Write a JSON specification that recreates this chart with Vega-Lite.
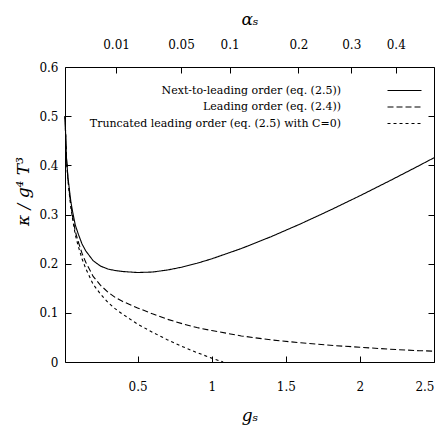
{
  "$schema": "https://vega.github.io/schema/vega-lite/v6.json",
  "width": 369,
  "height": 295,
  "autosize": {"type": "none"},
  "padding": {"left": 65, "top": 67, "right": 12, "bottom": 64},
  "background": "white",
  "config": {
    "view": {"stroke": "black", "strokeWidth": 1},
    "font": "DejaVu Serif",
    "axis": {
      "domain": false,
      "grid": false,
      "tickColor": "black",
      "tickSize": -6,
      "labelColor": "black",
      "labelFont": "DejaVu Serif",
      "labelFontSize": 12,
      "titleColor": "black",
      "titleFont": "DejaVu Serif",
      "titleFontWeight": "normal",
      "titleFontStyle": "italic",
      "titleFontSize": 17
    },
    "legend": {
      "labelFont": "DejaVu Serif",
      "labelFontSize": 11,
      "labelColor": "black",
      "labelLimit": 0
    }
  },
  "data": {
    "values": [
      {"g": 0.01, "k": 0.5, "series": "Next-to-leading order (eq. (2.5))"},
      {"g": 0.02, "k": 0.415, "series": "Next-to-leading order (eq. (2.5))"},
      {"g": 0.03, "k": 0.375, "series": "Next-to-leading order (eq. (2.5))"},
      {"g": 0.04, "k": 0.35, "series": "Next-to-leading order (eq. (2.5))"},
      {"g": 0.05, "k": 0.325, "series": "Next-to-leading order (eq. (2.5))"},
      {"g": 0.065, "k": 0.3, "series": "Next-to-leading order (eq. (2.5))"},
      {"g": 0.08, "k": 0.278, "series": "Next-to-leading order (eq. (2.5))"},
      {"g": 0.1, "k": 0.26, "series": "Next-to-leading order (eq. (2.5))"},
      {"g": 0.125, "k": 0.24, "series": "Next-to-leading order (eq. (2.5))"},
      {"g": 0.15, "k": 0.226, "series": "Next-to-leading order (eq. (2.5))"},
      {"g": 0.2, "k": 0.206, "series": "Next-to-leading order (eq. (2.5))"},
      {"g": 0.25, "k": 0.195, "series": "Next-to-leading order (eq. (2.5))"},
      {"g": 0.3, "k": 0.189, "series": "Next-to-leading order (eq. (2.5))"},
      {"g": 0.35, "k": 0.186, "series": "Next-to-leading order (eq. (2.5))"},
      {"g": 0.4, "k": 0.184, "series": "Next-to-leading order (eq. (2.5))"},
      {"g": 0.5, "k": 0.182, "series": "Next-to-leading order (eq. (2.5))"},
      {"g": 0.6, "k": 0.183, "series": "Next-to-leading order (eq. (2.5))"},
      {"g": 0.7, "k": 0.187, "series": "Next-to-leading order (eq. (2.5))"},
      {"g": 0.8, "k": 0.193, "series": "Next-to-leading order (eq. (2.5))"},
      {"g": 0.9, "k": 0.2007, "series": "Next-to-leading order (eq. (2.5))"},
      {"g": 1.0, "k": 0.2098, "series": "Next-to-leading order (eq. (2.5))"},
      {"g": 1.2, "k": 0.2308, "series": "Next-to-leading order (eq. (2.5))"},
      {"g": 1.4, "k": 0.2548, "series": "Next-to-leading order (eq. (2.5))"},
      {"g": 1.6, "k": 0.281, "series": "Next-to-leading order (eq. (2.5))"},
      {"g": 1.8, "k": 0.3089, "series": "Next-to-leading order (eq. (2.5))"},
      {"g": 2.0, "k": 0.3381, "series": "Next-to-leading order (eq. (2.5))"},
      {"g": 2.2, "k": 0.3684, "series": "Next-to-leading order (eq. (2.5))"},
      {"g": 2.4, "k": 0.3995, "series": "Next-to-leading order (eq. (2.5))"},
      {"g": 2.5, "k": 0.4154, "series": "Next-to-leading order (eq. (2.5))"},

      {"g": 0.01, "k": 0.5, "series": "Leading order (eq. (2.4))"},
      {"g": 0.02, "k": 0.414, "series": "Leading order (eq. (2.4))"},
      {"g": 0.03, "k": 0.372, "series": "Leading order (eq. (2.4))"},
      {"g": 0.04, "k": 0.344, "series": "Leading order (eq. (2.4))"},
      {"g": 0.05, "k": 0.318, "series": "Leading order (eq. (2.4))"},
      {"g": 0.065, "k": 0.289, "series": "Leading order (eq. (2.4))"},
      {"g": 0.08, "k": 0.265, "series": "Leading order (eq. (2.4))"},
      {"g": 0.1, "k": 0.244, "series": "Leading order (eq. (2.4))"},
      {"g": 0.125, "k": 0.221, "series": "Leading order (eq. (2.4))"},
      {"g": 0.15, "k": 0.203, "series": "Leading order (eq. (2.4))"},
      {"g": 0.2, "k": 0.174, "series": "Leading order (eq. (2.4))"},
      {"g": 0.25, "k": 0.156, "series": "Leading order (eq. (2.4))"},
      {"g": 0.3, "k": 0.142, "series": "Leading order (eq. (2.4))"},
      {"g": 0.35, "k": 0.131, "series": "Leading order (eq. (2.4))"},
      {"g": 0.4, "k": 0.123, "series": "Leading order (eq. (2.4))"},
      {"g": 0.5, "k": 0.11, "series": "Leading order (eq. (2.4))"},
      {"g": 0.6, "k": 0.098, "series": "Leading order (eq. (2.4))"},
      {"g": 0.7, "k": 0.087, "series": "Leading order (eq. (2.4))"},
      {"g": 0.8, "k": 0.078, "series": "Leading order (eq. (2.4))"},
      {"g": 0.9, "k": 0.07, "series": "Leading order (eq. (2.4))"},
      {"g": 1.0, "k": 0.064, "series": "Leading order (eq. (2.4))"},
      {"g": 1.2, "k": 0.053, "series": "Leading order (eq. (2.4))"},
      {"g": 1.4, "k": 0.045, "series": "Leading order (eq. (2.4))"},
      {"g": 1.6, "k": 0.039, "series": "Leading order (eq. (2.4))"},
      {"g": 1.8, "k": 0.034, "series": "Leading order (eq. (2.4))"},
      {"g": 2.0, "k": 0.03, "series": "Leading order (eq. (2.4))"},
      {"g": 2.2, "k": 0.026, "series": "Leading order (eq. (2.4))"},
      {"g": 2.4, "k": 0.023, "series": "Leading order (eq. (2.4))"},
      {"g": 2.5, "k": 0.022, "series": "Leading order (eq. (2.4))"},

      {"g": 0.01, "k": 0.5, "series": "Truncated leading order (eq. (2.5) with C=0)"},
      {"g": 0.02, "k": 0.413, "series": "Truncated leading order (eq. (2.5) with C=0)"},
      {"g": 0.03, "k": 0.37, "series": "Truncated leading order (eq. (2.5) with C=0)"},
      {"g": 0.04, "k": 0.34, "series": "Truncated leading order (eq. (2.5) with C=0)"},
      {"g": 0.05, "k": 0.313, "series": "Truncated leading order (eq. (2.5) with C=0)"},
      {"g": 0.065, "k": 0.284, "series": "Truncated leading order (eq. (2.5) with C=0)"},
      {"g": 0.08, "k": 0.258, "series": "Truncated leading order (eq. (2.5) with C=0)"},
      {"g": 0.1, "k": 0.235, "series": "Truncated leading order (eq. (2.5) with C=0)"},
      {"g": 0.125, "k": 0.21, "series": "Truncated leading order (eq. (2.5) with C=0)"},
      {"g": 0.15, "k": 0.19, "series": "Truncated leading order (eq. (2.5) with C=0)"},
      {"g": 0.2, "k": 0.158, "series": "Truncated leading order (eq. (2.5) with C=0)"},
      {"g": 0.25, "k": 0.138, "series": "Truncated leading order (eq. (2.5) with C=0)"},
      {"g": 0.3, "k": 0.121, "series": "Truncated leading order (eq. (2.5) with C=0)"},
      {"g": 0.35, "k": 0.108, "series": "Truncated leading order (eq. (2.5) with C=0)"},
      {"g": 0.4, "k": 0.097, "series": "Truncated leading order (eq. (2.5) with C=0)"},
      {"g": 0.5, "k": 0.077, "series": "Truncated leading order (eq. (2.5) with C=0)"},
      {"g": 0.6, "k": 0.0605, "series": "Truncated leading order (eq. (2.5) with C=0)"},
      {"g": 0.7, "k": 0.0455, "series": "Truncated leading order (eq. (2.5) with C=0)"},
      {"g": 0.8, "k": 0.0316, "series": "Truncated leading order (eq. (2.5) with C=0)"},
      {"g": 0.9, "k": 0.0191, "series": "Truncated leading order (eq. (2.5) with C=0)"},
      {"g": 1.0, "k": 0.0079, "series": "Truncated leading order (eq. (2.5) with C=0)"},
      {"g": 1.077, "k": 0.0, "series": "Truncated leading order (eq. (2.5) with C=0)"}
    ]
  },
  "resolve": {"axis": {"x": "independent", "y": "independent"}},
  "layer": [
    {
      "mark": {"type": "line", "color": "black", "strokeWidth": 1.1},
      "encoding": {
        "x": {
          "field": "g", "type": "quantitative",
          "scale": {"domain": [0.01, 2.5], "nice": false, "zero": false},
          "axis": {"orient": "bottom", "values": [0.5, 1, 1.5, 2, 2.5], "format": "~g", "labelPadding": 25, "title": "gₛ", "titlePadding": 15}
        },
        "y": {
          "field": "k", "type": "quantitative",
          "scale": {"domain": [0, 0.6], "nice": false},
          "axis": {"orient": "left", "values": [0, 0.1, 0.2, 0.3, 0.4, 0.5, 0.6], "format": "~g", "labelPadding": 13, "title": "κ / g⁴ T³", "titleFontSize": 17, "titlePadding": 6, "titleY": 124, "titleAlign": "center"}
        },
        "strokeDash": {
          "field": "series", "type": "nominal",
          "scale": {
            "domain": ["Next-to-leading order (eq. (2.5))", "Leading order (eq. (2.4))", "Truncated leading order (eq. (2.5) with C=0)"],
            "range": [[1, 0], [6, 3], [3, 3]]
          },
          "legend": {
            "title": null,
            "orient": "none",
            "legendX": 334,
            "legendY": 18,
            "padding": 0,
            "labelAlign": "right",
            "labelOffset": -69,
            "symbolType": "M-5,0H5",
            "symbolSize": 46.2,
            "symbolStrokeColor": "black",
            "symbolStrokeWidth": 1.1,
            "rowPadding": 4.5
          }
        },
        "detail": {"field": "series"}
      }
    },
    {
      "mark": {"type": "line", "opacity": 0},
      "encoding": {
        "x": {
          "field": "g", "type": "quantitative",
          "axis": {
            "orient": "top",
            "values": [0.3545, 0.7927, 1.121, 1.5853, 1.9416, 2.242],
            "labelExpr": "format(pow(datum.value, 2) / (4 * PI), '.2~f')",
            "labelPadding": 22,
            "title": "αₛ",
            "titlePadding": 10
          }
        },
        "y": {
          "field": "k", "type": "quantitative",
          "axis": {"orient": "right", "values": [0, 0.1, 0.2, 0.3, 0.4, 0.5, 0.6], "labels": false, "title": null}
        },
        "detail": {"field": "series"}
      }
    }
  ]
}
